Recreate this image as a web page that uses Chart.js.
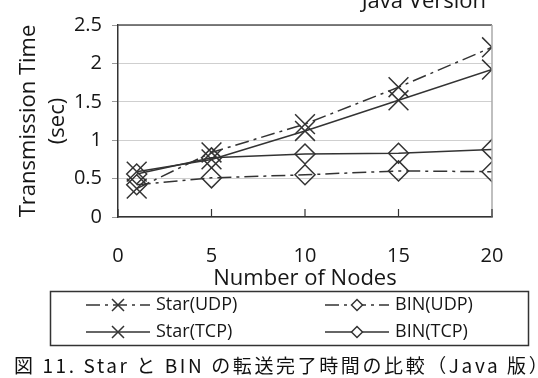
<!DOCTYPE html>
<html>
<head>
<meta charset="utf-8">
<script src="https://cdn.jsdelivr.net/npm/chart.js@4.4.1/dist/chart.umd.min.js"></script>
<style>
  html, body { margin: 0; padding: 0; background: #fff; overflow: hidden; }
  #wrap { position: relative; width: 538px; height: 378px; }
  #caption {
    position: absolute; left: 14px; top: 354px;
    font-family: "Noto Sans CJK JP", sans-serif; font-size: 19px; line-height: 22px;
    color: #111; white-space: nowrap; letter-spacing: 2.6px;
  }
</style>
</head>
<body>
<div id="wrap">
  <canvas id="chart" width="538" height="378"></canvas>
  <div id="caption">図 11. Star と BIN の転送完了時間の比較（Java 版）</div>
</div>
<script>
// data
const nodes = [1, 5, 10, 15, 20];
const starUdp = [0.37, 0.84, 1.21, 1.69, 2.21];
const binUdp = [0.42, 0.51, 0.55, 0.6, 0.59];
const starTcp = [0.59, 0.75, 1.12, 1.52, 1.92];
const binTcp = [0.56, 0.77, 0.82, 0.83, 0.88];
const xTicks = [0, 5, 10, 15, 20];

const ink = '#333';
const textInk = '#161616';
const dashDot = [14, 5, 3, 5];

const pts = (ys) => nodes.map((n, i) => ({x: n, y: ys[i]}));

function series(label, ys, marker, dashed) {
  return {
    label: label,
    data: pts(ys),
    borderColor: ink,
    borderWidth: 1.5,
    borderDash: dashed ? dashDot : [],
    pointStyle: marker,
    pointRadius: marker === 'crossRot' ? 14 : 10,
    pointBorderColor: ink,
    pointBorderWidth: 1.5,
    pointBackgroundColor: 'rgba(0,0,0,0)',
    tension: 0,
    fill: false
  };
}

// extra bits: title, frame, inner x ticks, boxed legend
const extras = {
  id: 'extras',
  afterDraw(chart) {
    const ctx = chart.ctx;
    const a = chart.chartArea;
    const xs = chart.scales.x;
    ctx.save();

    // title (clipped at the top in the original)
    ctx.fillStyle = textInk;
    ctx.font = '22px "Open Sans"';
    ctx.textAlign = 'right';
    ctx.textBaseline = 'alphabetic';
    ctx.fillText('Java Version', 486, 8);

    // top and right frame
    ctx.lineWidth = 1.5;
    ctx.strokeStyle = '#555';
    ctx.beginPath();
    ctx.moveTo(a.left, a.top);
    ctx.lineTo(a.right, a.top);
    ctx.stroke();
    ctx.strokeStyle = '#aaa';
    ctx.beginPath();
    ctx.moveTo(a.right, a.top);
    ctx.lineTo(a.right, a.bottom);
    ctx.stroke();

    // x ticks pointing into the plot
    ctx.strokeStyle = ink;
    ctx.lineWidth = 1.2;
    xTicks.forEach(v => {
      const px = xs.getPixelForValue(v);
      ctx.beginPath();
      ctx.moveTo(px, a.bottom);
      ctx.lineTo(px, a.bottom - 8);
      ctx.stroke();
    });

    // legend box
    ctx.lineWidth = 1.5;
    ctx.strokeStyle = ink;
    ctx.strokeRect(50.5, 291.5, 478, 54);

    const colX = [86, 325];
    const rowY = [305, 332];
    const sampleLen = 64;
    ctx.font = '18px "Open Sans"';
    ctx.textAlign = 'left';
    ctx.textBaseline = 'middle';
    chart.data.datasets.forEach((ds, i) => {
      const x0 = colX[i % 2];
      const y = rowY[Math.floor(i / 2)];
      ctx.strokeStyle = ink;
      ctx.lineWidth = 1.5;
      ctx.setLineDash(ds.borderDash);
      ctx.beginPath();
      ctx.moveTo(x0, y);
      ctx.lineTo(x0 + sampleLen, y);
      ctx.stroke();
      ctx.setLineDash([]);
      const mx = x0 + sampleLen / 2;
      ctx.beginPath();
      if (ds.pointStyle === 'crossRot') {
        const h = 6;
        ctx.moveTo(mx - h, y - h); ctx.lineTo(mx + h, y + h);
        ctx.moveTo(mx + h, y - h); ctx.lineTo(mx - h, y + h);
        ctx.stroke();
      } else {
        const h = 5.5;
        ctx.moveTo(mx - h, y); ctx.lineTo(mx, y - h);
        ctx.lineTo(mx + h, y); ctx.lineTo(mx, y + h);
        ctx.closePath();
        ctx.fillStyle = '#fff';
        ctx.fill();
        ctx.stroke();
      }
      ctx.fillStyle = textInk;
      ctx.fillText(ds.label, x0 + sampleLen + 6, y);
    });
    ctx.restore();
  }
};

const config = {
  type: 'line',
  data: {
    datasets: [
      series('Star(UDP)', starUdp, 'crossRot', true),
      series('BIN(UDP)', binUdp, 'rectRot', true),
      series('Star(TCP)', starTcp, 'crossRot', false),
      series('BIN(TCP)', binTcp, 'rectRot', false)
    ]
  },
  options: {
    responsive: false,
    animation: false,
    layout: {
      padding: {top: 25, left: 0, right: 46, bottom: 86}
    },
    plugins: {
      legend: {display: false},
      tooltip: {enabled: false}
    },
    scales: {
      x: {
        type: 'linear',
        min: 0,
        max: 20,
        afterFit(scale) { scale.height = 75; },
        afterBuildTicks(scale) { scale.ticks = xTicks.map(v => ({value: v})); },
        grid: {display: false, drawTicks: false},
        border: {color: ink, width: 1.5},
        ticks: {
          color: textInk,
          padding: 27,
          maxRotation: 0,
          font: {family: 'Open Sans', size: 20}
        },
        title: {
          display: true,
          text: 'Number of Nodes',
          color: textInk,
          padding: 0,
          font: {family: 'Open Sans', size: 22, lineHeight: 1.2}
        }
      },
      y: {
        type: 'linear',
        min: 0,
        max: 2.5,
        afterFit(scale) { scale.width = 118; },
        grid: {
          color: '#cfcfcf',
          lineWidth: 1,
          tickLength: 6,
          tickColor: '#999'
        },
        border: {color: ink, width: 1.5},
        ticks: {
          stepSize: 0.5,
          color: textInk,
          padding: 10,
          font: {family: 'Open Sans', size: 20},
          callback: (v) => String(v)
        },
        title: {
          display: true,
          text: ['Transmission Time', '(sec)'],
          color: textInk,
          padding: {top: 14.5, bottom: 0},
          font: {family: 'Open Sans', size: 22, lineHeight: 29 / 22}
        }
      }
    }
  },
  plugins: [extras]
};

const chart = new Chart(document.getElementById('chart'), config);
</script>
</body>
</html>
